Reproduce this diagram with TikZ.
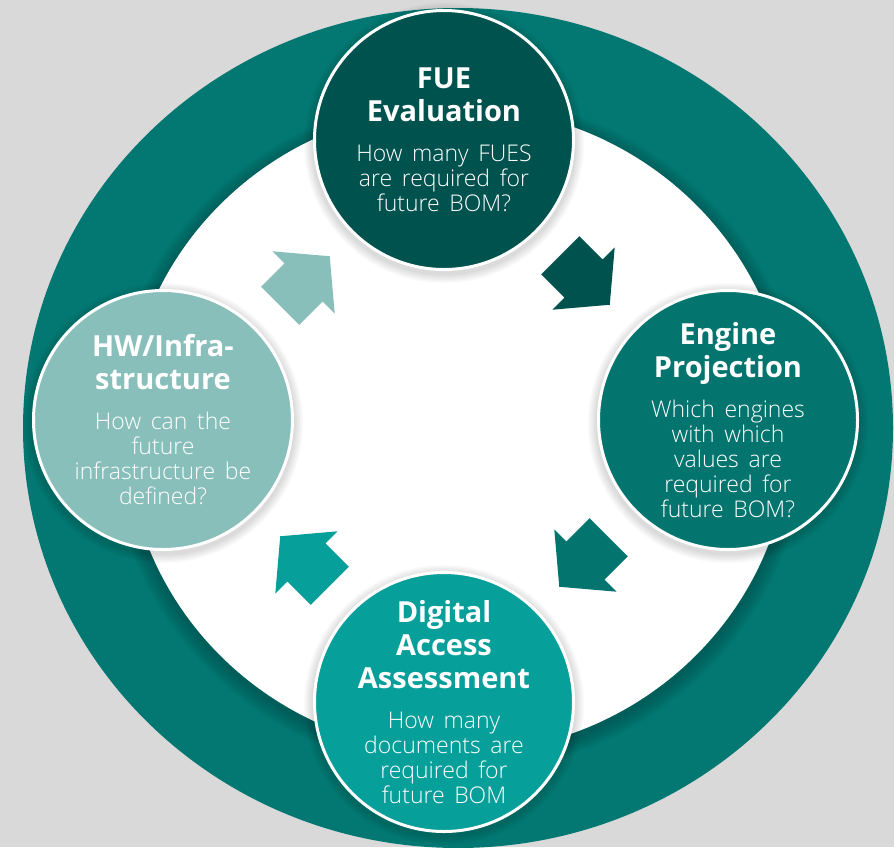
\documentclass[tikz,border=0pt]{standalone}
\usepackage{fontspec}
\setmainfont{Open Sans}
\newfontfamily\lightfont{Open Sans Light}

\definecolor{bggray}{HTML}{D9D9D9}
\definecolor{ringteal}{HTML}{037872}
\definecolor{fuedark}{HTML}{00524E}
\definecolor{engteal}{HTML}{04746E}
\definecolor{digteal}{HTML}{079F99}
\definecolor{hwlight}{HTML}{89BFBA}

\newcommand{\stagetitle}[1]{{\fontsize{29pt}{33pt}\selectfont\bfseries #1\par}}
\newcommand{\stagebody}[1]{{\vspace{15pt}\lightfont\fontsize{23pt}{25pt}\selectfont\spaceskip=0.42em #1\par}}

\begin{document}
\begin{tikzpicture}[x=1pt, y=-1pt,
  stage/.style={circle, draw=white, line width=3pt, minimum size=259pt, inner sep=0pt},
  stagetext/.style={text=white, text width=250pt, align=center, inner sep=0pt}]

% Define the coordinates
\coordinate (ring) at (458,428);
\coordinate (hub) at (458,430);
\coordinate (F) at (444,140);
\coordinate (E) at (728,420);
\coordinate (D) at (444,702);
\coordinate (H) at (163,420);

% Canvas
\useasboundingbox (0,0) rectangle (894,847);
\fill[bggray] (0,0) rectangle (894,847);

% Draw the outer ring
\fill[ringteal] (ring) ellipse [x radius=435pt, y radius=420pt];

% Soft shadow round the white disc
\foreach \i in {1,...,10}
  \fill[black, opacity=0.02] ([yshift=-4pt]hub) ellipse [x radius=332pt+1.6pt*\i, y radius=323pt+1.6pt*\i];

% Draw the white disc
\fill[white] (hub) ellipse [x radius=332pt, y radius=323pt];

% Soft shadows under the stages
\foreach \c in {F,E,D,H}
  \foreach \i in {1,...,6}
    \fill[black, opacity=0.025] ([yshift=-3pt]\c) circle [radius=131pt+1.5pt*\i];

% Draw the stage circles
\node[stage, fill=fuedark] (fue) at (F) {};
\node[stage, fill=engteal] (engine) at (E) {};
\node[stage, fill=digteal] (digital) at (D) {};
\node[stage, fill=hwlight] (hw) at (H) {};

% Draw the arrows between the stages
\foreach \pos/\ang/\col in {{(305,281)}/45/hwlight, {(585,280)}/-45/fuedark,
                            {(584,562)}/-135/engteal, {(305,561)}/135/digteal}
  \fill[\col, shift={\pos}, rotate=\ang]
    (-35,-27) -- (-2,-27) -- (-2,-44) -- (35,0) -- (-2,44) -- (-2,27) -- (-35,27) -- cycle;

% Label the stages
\node[stagetext] (fue-text) at (fue) {\stagetitle{FUE\\Evaluation}\stagebody{How many FUES\\are required for\\future BOM?}};
\node[stagetext] (engine-text) at (engine) {\stagetitle{Engine\\Projection}\stagebody{Which engines\\with which\\values are\\required for\\future BOM?}};
\node[stagetext] (digital-text) at (digital) {\stagetitle{Digital\\Access\\Assessment}\stagebody{How many\\documents are\\required for\\future BOM}};
\node[stagetext] (hw-text) at (hw) {\stagetitle{HW/Infra-\\structure}\stagebody{How can the\\future\\infrastructure be\\defined?}};

\end{tikzpicture}
\end{document}
